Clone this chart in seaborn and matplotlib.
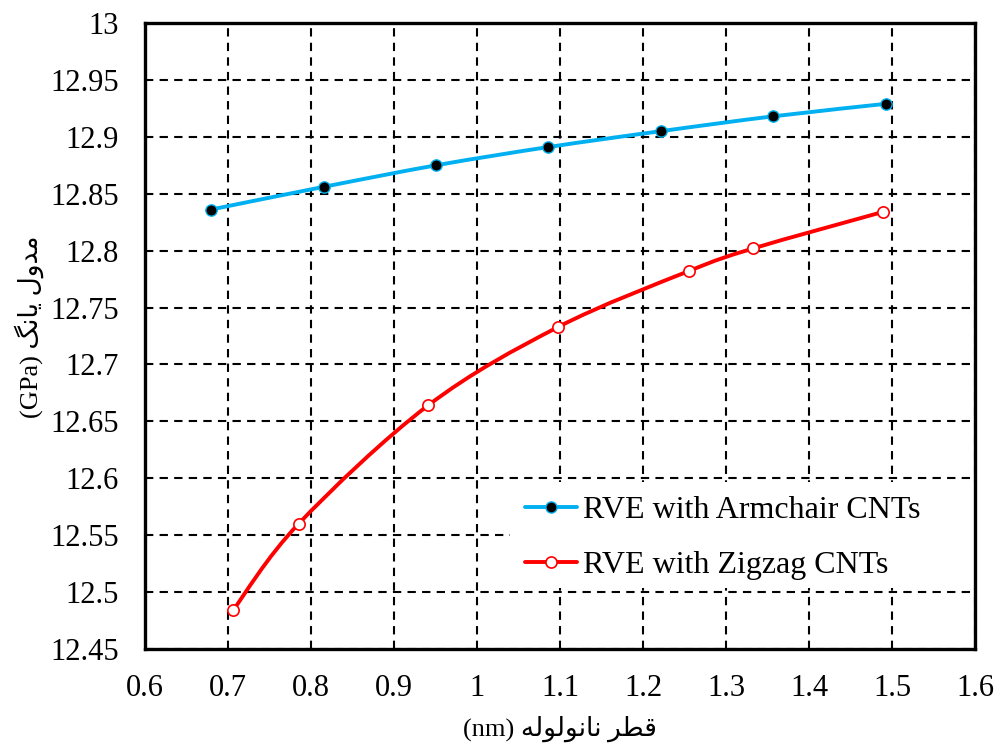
import numpy as np
import pandas as pd
import matplotlib
matplotlib.use("Agg")
import matplotlib.pyplot as plt
from matplotlib.path import Path
from matplotlib.patches import PathPatch, Rectangle
from matplotlib.lines import Line2D
import seaborn as sns

# Young's modulus of the RVE versus nanotube diameter
armchair_d = [0.679, 0.815, 0.951, 1.086, 1.222, 1.357, 1.493]
armchair_e = [12.836, 12.856, 12.875, 12.891, 12.905, 12.918, 12.929]

zigzag_d = [0.706, 0.785, 0.941, 1.098, 1.255, 1.333, 1.489]
zigzag_e = [12.484, 12.560, 12.664, 12.733, 12.782, 12.802, 12.834]

series_names = ["RVE with Armchair CNTs", "RVE with Zigzag CNTs"]
x_ticks = [0.6, 0.7, 0.8, 0.9, 1.0, 1.1, 1.2, 1.3, 1.4, 1.5, 1.6]
x_tick_labels = ["0.6", "0.7", "0.8", "0.9", "1", "1.1", "1.2", "1.3", "1.4", "1.5", "1.6"]
y_ticks = [12.45, 12.5, 12.55, 12.6, 12.65, 12.7, 12.75, 12.8, 12.85, 12.9, 12.95, 13.0]
y_tick_labels = ["12.45", "12.5", "12.55", "12.6", "12.65", "12.7", "12.75",
                 "12.8", "12.85", "12.9", "12.95", "13"]
x_label = "قطر نانولوله (nm)"
y_label = "مدول یانگ (GPa)"

# Persian letters: isolated, final, initial, medial presentation forms
FORMS = {
    "م": ("\uFEE1", "\uFEE2", "\uFEE3", "\uFEE4"),
    "د": ("\uFEA9", "\uFEAA", None, None),
    "و": ("\uFEED", "\uFEEE", None, None),
    "ل": ("\uFEDD", "\uFEDE", "\uFEDF", "\uFEE0"),
    "ی": ("\uFBFC", "\uFBFD", "\uFBFE", "\uFBFF"),
    "ا": ("\uFE8D", "\uFE8E", None, None),
    "ن": ("\uFEE5", "\uFEE6", "\uFEE7", "\uFEE8"),
    "گ": ("\uFB92", "\uFB93", "\uFB94", "\uFB95"),
    "ق": ("\uFED5", "\uFED6", "\uFED7", "\uFED8"),
    "ط": ("\uFEC1", "\uFEC2", "\uFEC3", "\uFEC4"),
    "ر": ("\uFEAD", "\uFEAE", None, None),
    "ه": ("\uFEE9", "\uFEEA", "\uFEEB", "\uFEEC"),
}


def shape_word(word):
    if not any(ch in FORMS for ch in word):
        return word
    out = []
    for i, ch in enumerate(word):
        f = FORMS[ch]
        joins_prev = i > 0 and FORMS[word[i - 1]][2] is not None
        joins_next = i < len(word) - 1 and f[2] is not None
        if joins_prev and joins_next:
            out.append(f[3])
        elif joins_prev:
            out.append(f[1])
        elif joins_next:
            out.append(f[2])
        else:
            out.append(f[0])
    return "".join(reversed(out))


def visual(text):
    # right-to-left paragraph: reverse word order, shape each Persian word
    return " ".join(shape_word(w) for w in reversed(text.split(" ")))


def smooth_path(xs, ys):
    # Catmull-Rom curve through the points, expressed as cubic Bezier segments
    pts = np.column_stack([xs, ys]).astype(float)
    n = len(pts)
    verts = [pts[0]]
    codes = [Path.MOVETO]
    for i in range(n - 1):
        p0 = pts[i - 1] if i > 0 else pts[i]
        p1 = pts[i]
        p2 = pts[i + 1]
        p3 = pts[i + 2] if i + 2 < n else pts[i + 1]
        c1 = p1 + (p2 - p0) / 6.0
        c2 = p2 - (p3 - p1) / 6.0
        verts += [c1, c2, p2]
        codes += [Path.CURVE4] * 3
    return Path(verts, codes)


sns.set_style("white")
plt.rcParams["font.family"] = ["Liberation Serif", "DejaVu Sans"]
plt.rcParams["text.color"] = "black"
plt.rcParams["axes.labelcolor"] = "black"

fig = plt.figure(figsize=(10.01, 7.53), dpi=100)
ax = fig.add_axes([0.1449, 0.1381, 0.8292, 0.8314])

blue = "#00B0F0"
red = "#FF0000"
lw = 2.8

for xs, ys, col in [(armchair_d, armchair_e, blue), (zigzag_d, zigzag_e, red)]:
    ax.add_patch(PathPatch(smooth_path(xs, ys), facecolor="none", edgecolor=col,
                           lw=lw, capstyle="round", zorder=3))

df_a = pd.DataFrame({"d": armchair_d, "E": armchair_e})
df_z = pd.DataFrame({"d": zigzag_d, "E": zigzag_e})
sns.scatterplot(data=df_a, x="d", y="E", ax=ax, s=66, color="black",
                edgecolor=blue, linewidth=1.0, zorder=4, legend=False)
sns.scatterplot(data=df_z, x="d", y="E", ax=ax, s=66, color="white",
                edgecolor=red, linewidth=1.2, zorder=4, legend=False)

ax.set_xlim(0.6, 1.6)
ax.set_ylim(12.45, 13.0)
ax.set_xticks(x_ticks)
ax.set_xticklabels(x_tick_labels)
ax.set_yticks(y_ticks)
ax.set_yticklabels(y_tick_labels)
ax.tick_params(axis="both", length=0, labelsize=22, colors="black")
ax.tick_params(axis="x", pad=18)
ax.tick_params(axis="y", pad=19)

ax.set_axisbelow(True)
ax.grid(True, color="black", linestyle=(0, (4, 3)), linewidth=1.5)
for sp in ax.spines.values():
    sp.set_visible(True)
    sp.set_color("black")
    sp.set_linewidth(2.4)
    sp.set_zorder(6)

ax.set_xlabel(visual(x_label), fontsize=19, color="black")
ax.set_ylabel(visual(y_label), fontsize=19, color="black")
ax.xaxis.label.set_va("center")
ax.yaxis.label.set_va("center")
ax.xaxis.set_label_coords(0.5, -0.127)
ax.yaxis.set_label_coords(-0.139, 0.515)

# white backing behind the legend, covering the grid to the right edge
ax.add_patch(Rectangle((0.44, 0.097), 0.56, 0.169, transform=ax.transAxes,
                       facecolor="white", edgecolor="none", zorder=2.5))

handles = [
    Line2D([], [], color=blue, lw=lw, marker="o", markersize=8.0,
           markerfacecolor="black", markeredgecolor=blue, markeredgewidth=1.0),
    Line2D([], [], color=red, lw=lw, marker="o", markersize=8.0,
           markerfacecolor="white", markeredgecolor=red, markeredgewidth=1.2),
]
leg = ax.legend(handles, series_names, loc="center left",
                bbox_to_anchor=(0.442, 0.178), borderaxespad=0,
                fontsize=23, frameon=False, handlelength=1.65,
                handletextpad=0.18, labelspacing=0.8, borderpad=0.4,
                labelcolor="black")

fig.savefig("out.png", dpi=100)
